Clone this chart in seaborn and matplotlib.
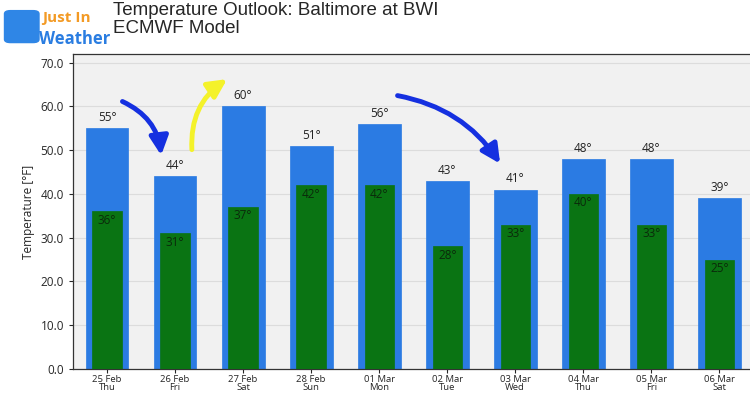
import matplotlib
matplotlib.use("Agg")
import matplotlib.pyplot as plt
import pandas as pd
import seaborn as sns
from matplotlib.patches import FancyArrowPatch, FancyBboxPatch

dates = ["25 Feb", "26 Feb", "27 Feb", "28 Feb", "01 Mar",
         "02 Mar", "03 Mar", "04 Mar", "05 Mar", "06 Mar"]
weekdays = ["Thu", "Fri", "Sat", "Sun", "Mon", "Tue", "Wed", "Thu", "Fri", "Sat"]
highs = [55, 44, 60, 51, 56, 43, 41, 48, 48, 39]
lows = [36, 31, 37, 42, 42, 28, 33, 40, 33, 25]

BLUE = "#2b7be3"
GREEN = "#0a7413"

labels = [f"{d}\n{w}" for d, w in zip(dates, weekdays)]
df = pd.DataFrame({"day": labels, "high": highs, "low": lows})

sns.set_style("ticks")
plt.rcParams["font.family"] = ["Open Sans", "DejaVu Sans"]

fig = plt.figure(figsize=(7.5, 3.94), dpi=100)
ax = fig.add_axes([0.0973, 0.0635, 0.9027, 0.7995])
ax.set_facecolor("#f1f1f1")

sns.barplot(data=df, x="day", y="high", color=BLUE, saturation=1,
            width=0.63, ax=ax, zorder=2, edgecolor=BLUE, linewidth=0.5)
sns.barplot(data=df, x="day", y="low", color=GREEN, saturation=1,
            width=0.43, ax=ax, zorder=3, edgecolor=GREEN, linewidth=0.5)

ax.bar_label(ax.containers[0], fmt="{:.0f}°", padding=3, fontsize=8.5, color="#222222")
ax.bar_label(ax.containers[1], fmt="{:.0f}°", padding=-11, fontsize=8.5, color="#0b2a0b")

ax.set_xlim(-0.5, 9.45)
ax.set_ylim(0, 72)
ax.set_yticks(range(0, 71, 10))
ax.set_yticklabels([f"{v:.1f}" for v in range(0, 71, 10)], fontsize=8.5)
for t in ax.get_xticklabels():
    t.set_linespacing(0.95)
ax.tick_params(axis="x", labelsize=6.8, pad=1, length=3)
ax.tick_params(axis="y", length=3)
ax.yaxis.grid(True, color="#dcdcdc", lw=0.8, zorder=0)
ax.set_axisbelow(True)
ax.set_xlabel("")
ax.set_ylabel("Temperature [°F]", fontsize=8.5)
for side in ["left", "top", "bottom"]:
    ax.spines[side].set_visible(True)
    ax.spines[side].set_color("#333333")
    ax.spines[side].set_linewidth(0.9)
ax.spines["right"].set_visible(False)

# annotation arrows drawn on the chart
arrows = [
    ((0.19, 61.4), (0.80, 48.2), "#1530e0", -0.3),
    ((1.25, 49.5), (1.80, 66.6), "#f4f22a", -0.3),
    ((4.23, 62.6), (5.80, 46.4), "#1530e0", -0.22),
]
for start, end, col, rad in arrows:
    ax.add_patch(FancyArrowPatch(start, end, arrowstyle="-|>", mutation_scale=28,
                                 lw=3.5, color=col, zorder=5,
                                 connectionstyle=f"arc3,rad={rad}"))

# title and logo
fig.text(0.151, 0.995, "Temperature Outlook: Baltimore at BWI\nECMWF Model",
         ha="left", va="top", fontsize=13.5, family="Liberation Sans", linespacing=1.05)
fig.patches.append(FancyBboxPatch((0.014, 0.9), 0.03, 0.065, boxstyle="round,pad=0.008",
                                  transform=fig.transFigure, color="#2f86e6"))
fig.text(0.056, 0.955, "Just In", ha="left", va="center", fontsize=11,
         color="#f39a24", weight="bold")
fig.text(0.052, 0.9, "Weather", ha="left", va="center", fontsize=12,
         color="#2a7de1", weight="bold")

fig.savefig("out.png", dpi=100)
